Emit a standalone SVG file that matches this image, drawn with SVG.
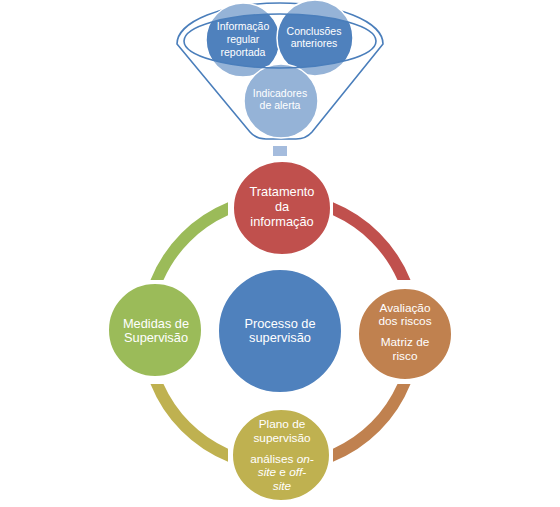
<svg xmlns="http://www.w3.org/2000/svg" width="560" height="507" viewBox="0 0 560 507">
<style>
text{font-family:"Liberation Sans",Arial,sans-serif;fill:#fff;text-anchor:middle}
.lbl{font-size:12.8px}
.sm{font-size:11.8px}
.fl{font-size:10.5px}
.it{font-style:italic}
.node{stroke:#fff;stroke-width:2}
.fo{fill:#fff;stroke:#4A7EBB;stroke-width:1.6}
</style>
<defs>
<clipPath id="inner"><ellipse cx="280" cy="41" rx="96" ry="27"/></clipPath>
</defs>
<rect width="560" height="507" fill="#fff"/>
<g id="funnel">
<path class="fo" d="M177,44 A103,41 0 0 1 383,44 L312,132 Q306,139 296,139 L266,139 Q256,139 250,132 Z"/>
<circle cx="243" cy="40" r="37" fill="#95B3D7" stroke="#fff" stroke-width="1.5"/>
<circle cx="315" cy="38" r="38" fill="#95B3D7" stroke="#fff" stroke-width="1.5"/>
<g clip-path="url(#inner)">
<circle cx="243" cy="40" r="37" fill="#4F81BD" stroke="#fff" stroke-width="1.5"/>
<circle cx="315" cy="38" r="38" fill="#4F81BD" stroke="#fff" stroke-width="1.5"/>
</g>
<circle cx="281" cy="101" r="37" fill="#95B3D7" stroke="#fff" stroke-width="1.5"/>
<ellipse cx="280" cy="41" rx="96" ry="27" fill="none" stroke="#4A7EBB" stroke-width="1.6"/>
<text class="fl" x="243" y="30">Informação</text>
<text class="fl" x="243" y="43">regular</text>
<text class="fl" x="243" y="56">reportada</text>
<text class="fl" x="314" y="35">Conclusões</text>
<text class="fl" x="314" y="47">anteriores</text>
<text class="fl" x="280" y="97">Indicadores</text>
<text class="fl" x="280" y="109">de alerta</text>
<rect x="273" y="146" width="14" height="10" fill="#A5BCDD"/>
</g>
<g id="connectors">
<path fill="#C0504D" d="M333,202.2 A140,140 0 0 1 410.5,280 L397.5,280 A128,128 0 0 0 333,215.3 Z"/>
<path fill="#C0814F" d="M410.5,384 A140,140 0 0 1 333,461.8 L333,448.7 A128,128 0 0 0 397.5,384 Z"/>
<path fill="#BFB150" d="M228,461.8 A140,140 0 0 1 150.5,384 L163.5,384 A128,128 0 0 0 228,448.7 Z"/>
<path fill="#9BBB59" d="M150.5,280 A140,140 0 0 1 228,202.2 L228,215.3 A128,128 0 0 0 163.5,280 Z"/>
</g>
<g id="center">
<circle class="node" cx="280" cy="331" r="62" fill="#4F81BD"/>
<text class="lbl" x="280" y="328">Processo de</text>
<text class="lbl" x="280" y="342">supervisão</text>
</g>
<g id="n-top">
<ellipse class="node" cx="282" cy="208" rx="49" ry="47" fill="#C0504D"/>
<text class="lbl" x="282" y="196">Tratamento</text>
<text class="lbl" x="282" y="211">da</text>
<text class="lbl" x="282" y="226">informação</text>
</g>
<g id="n-right">
<ellipse class="node" cx="405" cy="334" rx="47" ry="46" fill="#C0814F"/>
<text class="sm" x="405" y="311.5">Avaliação</text>
<text class="sm" x="405" y="325">dos riscos</text>
<text class="sm" x="405" y="346">Matriz de</text>
<text class="sm" x="405" y="359.5">risco</text>
</g>
<g id="n-bottom">
<ellipse class="node" cx="281" cy="455" rx="49" ry="46" fill="#BFB150"/>
<text class="sm" x="282" y="428">Plano de</text>
<text class="sm" x="282" y="441.5">supervisão</text>
<text class="sm" x="282" y="462.5">análises <tspan class="it">on-</tspan></text>
<text class="sm" x="282" y="476"><tspan class="it">site</tspan> e <tspan class="it">off-</tspan></text>
<text class="sm it" x="282" y="489.5">site</text>
</g>
<g id="n-left">
<ellipse class="node" cx="155" cy="330" rx="47" ry="47" fill="#9BBB59"/>
<text class="lbl" x="156" y="328">Medidas de</text>
<text class="lbl" x="156" y="342">Supervisão</text>
</g>
</svg>
